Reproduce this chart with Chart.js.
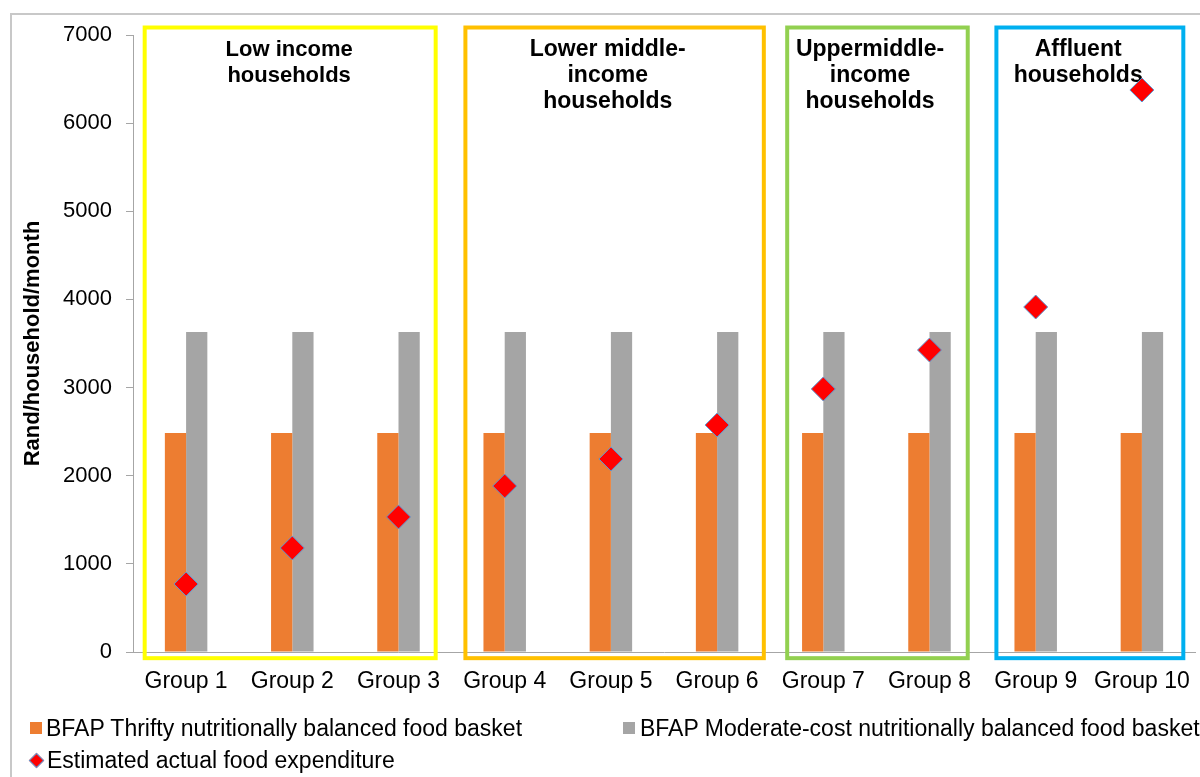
<!DOCTYPE html>
<html>
<head>
<meta charset="utf-8">
<script src="https://cdn.jsdelivr.net/npm/chart.js@4.4.1/dist/chart.umd.min.js"></script>
<style>
  html, body { margin: 0; padding: 0; background: #fff; overflow: hidden; }
  #wrap { position: relative; width: 1200px; height: 777px; font-family: "Liberation Sans", Arial, sans-serif; overflow: hidden; }
  #frame { position: absolute; left: 10px; top: 13px; width: 1200px; height: 800px; border-top: 2px solid #c8c8c8; border-left: 2px solid #c8c8c8; }
  canvas { position: absolute; left: 0; top: 0; }
  .lg { position: absolute; font-size: 23px; line-height: 26px; color: #000; white-space: nowrap; }
  .sw { position: absolute; width: 12px; height: 12px; }
  .dm { position: absolute; width: 9px; height: 9px; background: #ff0000; border: 1px solid #5b9bd5; transform: rotate(45deg); }
</style>
</head>
<body>
<div id="wrap">
  <div id="frame"></div>
  <canvas id="c" width="1208" height="777"></canvas>
  <div class="sw" style="left:30px;top:722px;background:#ed7d31"></div>
  <div class="lg" style="left:46px;top:715px">BFAP Thrifty nutritionally balanced food basket</div>
  <div class="sw" style="left:623px;top:722px;background:#a5a5a5"></div>
  <div class="lg" style="left:640px;top:715px">BFAP Moderate-cost nutritionally balanced food basket</div>
  <div class="dm" style="left:31px;top:755px"></div>
  <div class="lg" style="left:47px;top:747px">Estimated actual food expenditure</div>
</div>
<script>
// Группы домохозяйств и значения (ранд/домохозяйство/месяц)
const groups = ['Group 1', 'Group 2', 'Group 3', 'Group 4', 'Group 5',
                'Group 6', 'Group 7', 'Group 8', 'Group 9', 'Group 10'];
const thrifty  = [2484, 2484, 2484, 2484, 2484, 2484, 2484, 2484, 2484, 2484];
const moderate = [3630, 3630, 3630, 3630, 3630, 3630, 3630, 3630, 3630, 3630];
const actual   = [771, 1180, 1532, 1883, 2190, 2575, 2984, 3426, 3914, 6376];

const yTicks = [0, 1000, 2000, 3000, 4000, 5000, 6000, 7000];

// Рамки по доходным группам (в единицах категорий оси X и значениях оси Y)
const boxLabels = [
  ['Low income', 'households'],
  ['Lower middle-', 'income', 'households'],
  ['Uppermiddle-', 'income', 'households'],
  ['Affluent', 'households'],
];
const boxColors  = ['#ffff00', '#ffc000', '#92d050', '#00b0f0'];
const boxStart   = [-0.39, 2.63, 5.66, 7.63];
const boxEnd     = [2.35, 5.44, 7.36, 9.39];
const boxLabelAt = [0.97, 3.97, 6.44, 8.40];
const boxTop = 7085, boxBottom = -70;

const FONT = '"Liberation Sans", Arial, sans-serif';

const groupBoxes = {
  id: 'groupBoxes',
  beforeDatasetsDraw(chart) {
    const { ctx, scales: { x, y } } = chart;
    const x0 = x.getPixelForValue(0);
    const step = x.getPixelForValue(1) - x0;
    const px = (v) => x0 + v * step;
    const t = y.getPixelForValue(boxTop), b = y.getPixelForValue(boxBottom);
    ctx.save();
    ctx.lineWidth = 4;
    ctx.textAlign = 'center';
    ctx.textBaseline = 'middle';
    boxColors.forEach((c, i) => {
      const l = px(boxStart[i]), r = px(boxEnd[i]);
      ctx.strokeStyle = c;
      ctx.strokeRect(l, t, r - l, b - t);
      ctx.fillStyle = '#000';
      ctx.font = 'bold ' + (i === 0 ? 22 : 23) + 'px ' + FONT;
      boxLabels[i].forEach((s, j) => ctx.fillText(s, px(boxLabelAt[i]), t + 22 + j * 26));
    });
    ctx.restore();
  }
};

new Chart(document.getElementById('c'), {
  type: 'bar',
  data: {
    labels: groups,
    datasets: [
      {
        type: 'line',
        label: 'Estimated actual food expenditure',
        data: actual,
        showLine: false,
        pointStyle: 'rectRot',
        pointRadius: 12,
        pointHoverRadius: 12,
        backgroundColor: '#ff0000',
        borderColor: '#5b9bd5',
        pointBorderWidth: 1,
        clip: false,
        order: 0,
      },
      {
        label: 'BFAP Thrifty nutritionally balanced food basket',
        data: thrifty,
        backgroundColor: '#ed7d31',
        categoryPercentage: 0.4,
        barPercentage: 1.0,
        order: 1,
      },
      {
        label: 'BFAP Moderate-cost nutritionally balanced food basket',
        data: moderate,
        backgroundColor: '#a5a5a5',
        categoryPercentage: 0.4,
        barPercentage: 1.0,
        order: 2,
      },
    ],
  },
  options: {
    responsive: false,
    animation: false,
    layout: { padding: { left: 10, top: 35, right: 5, bottom: 75 } },
    plugins: { legend: { display: false }, tooltip: { enabled: false } },
    scales: {
      x: {
        grid: { display: false },
        border: { display: true, color: '#a6a6a6', width: 1 },
        ticks: { color: '#000', font: { family: FONT, size: 23 }, padding: 8, maxRotation: 0, autoSkip: false },
        afterFit: (s) => { s.height = 50; },
      },
      y: {
        min: 0,
        max: 7000,
        afterBuildTicks: (s) => { s.ticks = yTicks.map(v => ({ value: v })); },
        grid: { drawOnChartArea: false, drawTicks: true, tickLength: 7, color: '#a6a6a6' },
        border: { display: true, color: '#a6a6a6', width: 1 },
        ticks: { color: '#000', font: { family: FONT, size: 22 }, padding: 14, callback: (v) => String(v) },
        title: {
          display: true,
          text: 'Rand/household/month',
          color: '#000',
          font: { family: FONT, size: 22, weight: 'bold' },
          padding: { top: 10, bottom: 0 },
        },
        afterFit: (s) => { s.width = 123; },
      },
    },
  },
  plugins: [groupBoxes],
});
</script>
</body>
</html>
